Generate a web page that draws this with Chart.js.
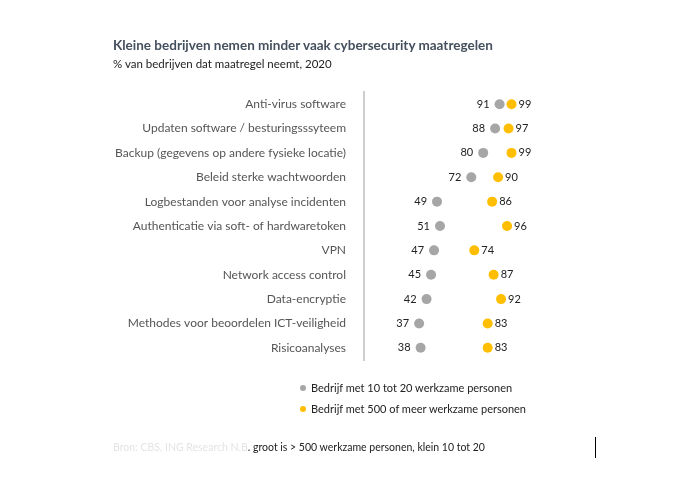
<!DOCTYPE html>
<html lang="nl">
<head>
<meta charset="UTF-8">
<title>Kleine bedrijven nemen minder vaak cybersecurity maatregelen</title>
<script src="https://cdn.jsdelivr.net/npm/chart.js"></script>
<style>
  body { margin: 0; background: #fff; }
  #wrap { position: relative; width: 700px; height: 500px; font-family: Lato, sans-serif; }
  #grafiek { position: absolute; left: 0; top: 0; }
  .txt { position: absolute; white-space: nowrap; }
  #titel { left: 113px; top: 37px; font-size: 13.5px; font-weight: bold; color: #45505e; }
  #subtitel { left: 113px; top: 57px; font-size: 11.5px; color: #222; }
  .leg { left: 300px; font-size: 11px; color: #222; }
  .leg span { display: inline-block; width: 6px; height: 6px; border-radius: 50%; margin-right: 5px; vertical-align: 1px; }
  #bron { left: 113px; top: 441px; font-size: 10.5px; color: #222; }
  #bron .licht { color: #e4e4e4; }
  #streep { position: absolute; left: 595px; top: 437px; width: 1px; height: 21px; background: #000; }
</style>
</head>
<body>
<div id="wrap">
  <canvas id="grafiek" width="700" height="500"></canvas>
  <div class="txt" id="titel">Kleine bedrijven nemen minder vaak cybersecurity maatregelen</div>
  <div class="txt" id="subtitel">% van bedrijven dat maatregel neemt, 2020</div>
  <div class="txt leg" style="top:381px"><span style="background:#a6a6a6"></span>Bedrijf met 10 tot 20 werkzame personen</div>
  <div class="txt leg" style="top:402px"><span style="background:#ffbf00"></span>Bedrijf met 500 of meer werkzame personen</div>
  <div class="txt" id="bron"><span class="licht">Bron: CBS, ING Research N.B</span>. groot is &gt; 500 werkzame personen, klein 10 tot 20</div>
  <div id="streep"></div>
</div>
<script>
// maatregelen en percentages
const maatregelen = [
  'Anti-virus software',
  'Updaten software / besturingsssyteem',
  'Backup (gegevens op andere fysieke locatie)',
  'Beleid sterke wachtwoorden',
  'Logbestanden voor analyse incidenten',
  'Authenticatie via soft- of hardwaretoken',
  'VPN',
  'Network access control',
  'Data-encryptie',
  'Methodes voor beoordelen ICT-veiligheid',
  'Risicoanalyses'
];
const klein = [91, 88, 80, 72, 49, 51, 47, 45, 42, 37, 38];
const groot = [99, 97, 99, 90, 86, 96, 74, 87, 92, 83, 83];

// waarden naast de bolletjes schrijven
const waardeLabels = {
  id: 'waardeLabels',
  afterDatasetsDraw(chart) {
    const ctx = chart.ctx;
    ctx.save();
    ctx.font = '11px Lato, sans-serif';
    ctx.fillStyle = '#222';
    ctx.textBaseline = 'middle';
    chart.data.datasets.forEach((ds, i) => {
      chart.getDatasetMeta(i).data.forEach((pt, j) => {
        if (i === 0) {
          ctx.textAlign = 'right';
          ctx.fillText(ds.data[j], pt.x - 10, pt.y);
        } else {
          ctx.textAlign = 'left';
          ctx.fillText(ds.data[j], pt.x + 7, pt.y);
        }
      });
    });
    ctx.restore();
  }
};

new Chart(document.getElementById('grafiek'), {
  type: 'line',
  data: {
    labels: maatregelen,
    datasets: [
      { label: 'Bedrijf met 10 tot 20 werkzame personen', data: klein, backgroundColor: '#a6a6a6', borderColor: '#a6a6a6', clip: false },
      { label: 'Bedrijf met 500 of meer werkzame personen', data: groot, backgroundColor: '#ffbf00', borderColor: '#ffbf00', clip: false }
    ]
  },
  options: {
    responsive: false,
    animation: false,
    indexAxis: 'y',
    showLine: false,
    elements: { point: { radius: 5, borderWidth: 0, hoverRadius: 5 } },
    layout: { padding: { left: 113, right: 187, top: 92, bottom: 140 } },
    plugins: { legend: { display: false }, tooltip: { enabled: false } },
    scales: {
      x: { type: 'linear', min: 0, max: 100, display: false },
      y: {
        type: 'category',
        offset: true,
        afterFit: s => { s.width = 251; },
        grid: { display: false },
        border: { display: true, color: '#cfcfcf', width: 2 },
        ticks: { color: '#555', padding: 10, font: { family: 'Lato', size: 12 } }
      }
    }
  },
  plugins: [waardeLabels]
});
</script>
</body>
</html>
